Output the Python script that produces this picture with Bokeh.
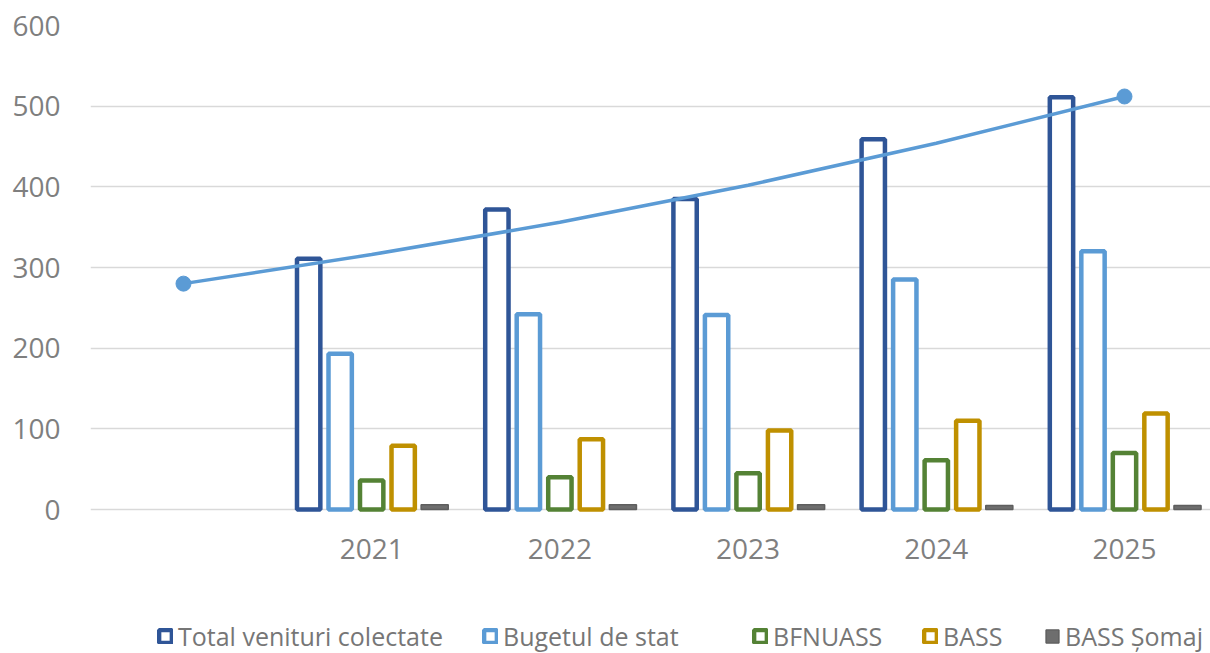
from bokeh.plotting import figure
from bokeh.models import ColumnDataSource, Range1d, FixedTicker, Legend, LegendItem
from bokeh.transform import dodge
from bokeh.embed import file_html
from bokeh.resources import INLINE

categories = ["", "2021", "2022", "2023", "2024", "2025"]
years = categories[1:]
total = [311, 372, 385, 459, 511]
buget = [193, 242, 241, 285, 320]
bfnuass = [36, 40, 45, 61, 70]
bass = [79, 87, 98, 110, 119]
somaj = [6, 6, 6, 5, 5]
trend = [280, 316, 356, 402, 454, 512]
y_ticks = [0, 100, 200, 300, 400, 500, 600]

names = ["Total venituri colectate", "Bugetul de stat", "BFNUASS", "BASS", "BASS Șomaj"]
colors = ["#2F5597", "#5B9BD5", "#548235", "#BF9000", "#636363"]

xs = list(range(len(categories)))
bar_x = [categories.index(y) for y in years]
bar_src = ColumnDataSource(dict(x=bar_x, total=total, buget=buget, bfnuass=bfnuass,
                                bass=bass, somaj=somaj))
line_src = ColumnDataSource(dict(x=xs, trend=trend))

p = figure(width=1210, height=653, output_backend="svg", toolbar_location=None,
           x_range=Range1d(-0.494, 5.457), y_range=Range1d(-178.5, 600),
           min_border_left=90, min_border_top=25, min_border_right=0,
           min_border_bottom=0)
p.outline_line_color = None
p.background_fill_color = "white"
p.border_fill_color = "white"

FONT = "Open Sans"
TXT = "#7F7F7F"

p.yaxis.ticker = FixedTicker(ticks=y_ticks)
p.yaxis.axis_line_color = None
p.yaxis.major_tick_line_color = None
p.yaxis.major_tick_out = 0
p.yaxis.minor_tick_line_color = None
p.yaxis.major_label_text_font = FONT
p.yaxis.major_label_text_font_size = "28px"
p.yaxis.major_label_text_color = TXT
p.yaxis.major_label_standoff = 30

p.xaxis.fixed_location = 0
p.xaxis.ticker = FixedTicker(ticks=bar_x)
p.xaxis.major_label_overrides = {i: c for i, c in enumerate(categories) if c}
p.xaxis.axis_line_color = None
p.xaxis.major_tick_line_color = None
p.xaxis.major_tick_out = 0
p.xaxis.minor_tick_line_color = None
p.xaxis.major_label_text_font = FONT
p.xaxis.major_label_text_font_size = "28px"
p.xaxis.major_label_text_color = TXT
p.xaxis.major_label_standoff = 29

p.xgrid.grid_line_color = None
p.ygrid.grid_line_color = "#D9D9D9"
p.ygrid.grid_line_width = 1.5

step = 0.1674
bw = 0.124
fields = ["total", "buget", "bfnuass", "bass", "somaj"]
items = []
for i, (f, n, c) in enumerate(zip(fields, names, colors)):
    off = (i - 2) * step
    if f == "somaj":
        r = p.vbar(x=dodge("x", off, range=p.x_range), top=f, width=bw + 0.02, bottom=0,
                   source=bar_src, fill_color="#6E6E6E", line_color="#5E5E5E", line_width=1.5)
    else:
        r = p.vbar(x=dodge("x", off, range=p.x_range), top=f, width=bw, bottom=0,
                   source=bar_src, fill_color="white", line_color=c, line_width=4.5)
    items.append(LegendItem(label=n, renderers=[r]))

p.line("x", "trend", source=line_src, line_color="#5B9BD5", line_width=3.5)
ends = ColumnDataSource(dict(x=[xs[0], xs[-1]], y=[trend[0], trend[-1]]))
p.scatter("x", "y", source=ends, size=15, fill_color="#5B9BD5", line_color="#5B9BD5")

legend_x = [67, 392, 662, 832, 954]
for item, lx in zip(items, legend_x):
    lg = Legend(items=[item], orientation="horizontal", location=(lx, 0),
                glyph_width=16, glyph_height=16, label_standoff=5, spacing=0,
                padding=0, margin=0, border_line_color=None, background_fill_alpha=0,
                label_text_font=FONT, label_text_font_size="25px",
                label_text_color="#767676", label_height=20)
    p.add_layout(lg, "center")

open("out.html", "w").write(file_html(p, INLINE))
